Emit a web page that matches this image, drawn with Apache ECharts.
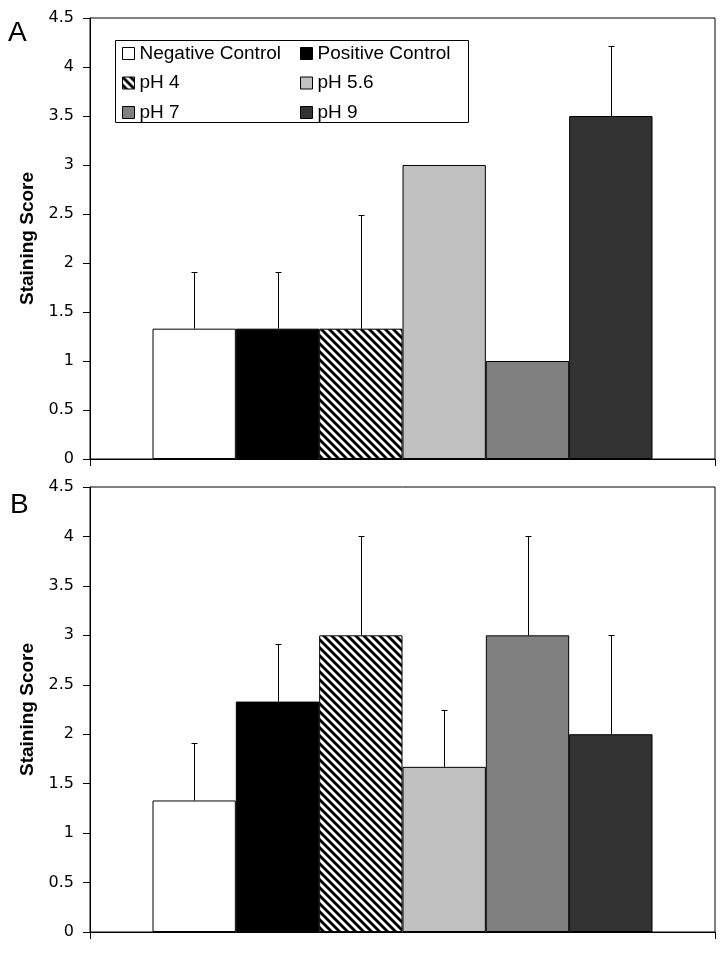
<!DOCTYPE html>
<html>
<head>
<meta charset="utf-8">
<script src="https://cdn.jsdelivr.net/npm/echarts@6/dist/echarts.min.js"></script>
<style>
html,body{margin:0;padding:0;background:#fff;}
#chart{width:720px;height:960px;}
</style>
</head>
<body>
<div id="chart"></div>
<script>
// ---- data ----
const categories = ['Negative Control', 'Positive Control', 'pH 4', 'pH 5.6', 'pH 7', 'pH 9'];
const valuesA = [1.33, 1.33, 1.33, 3.0, 1.0, 3.5];
const errorsA = [0.58, 0.58, 1.16, 0, 0, 0.71];
const valuesB = [1.33, 2.33, 3.0, 1.67, 3.0, 2.0];
const errorsB = [0.58, 0.58, 1.0, 0.58, 1.0, 1.0];
const yMin = 0, yMax = 4.5, yStep = 0.5;
const panelLabels = ['A', 'B'];

// ---- styles ----
const FONT = "'Liberation Sans', Arial, sans-serif";
const TICK_FONT = "'DejaVu Sans', sans-serif";
function hatch() {
  const s = 8;
  const c = document.createElement('canvas');
  c.width = s; c.height = s;
  const g = c.getContext('2d');
  g.fillStyle = '#fff';
  g.fillRect(0, 0, s, s);
  g.strokeStyle = '#000';
  g.lineWidth = 2.8;
  for (let k = -1; k <= 1; k++) {
    g.beginPath();
    g.moveTo(-2, -2 + k * s);
    g.lineTo(s + 2, s + 2 + k * s);
    g.stroke();
  }
  return { image: c, repeat: 'repeat' };
}
const fills = ['#ffffff', '#000000', hatch(), '#c0c0c0', '#808080', '#333333'];
const CAT_GAP = 0.2;

const grids = [
  { left: 90, right: 5, top: 18, height: 441 },
  { left: 90, right: 5, top: 487, height: 445 }
];

function xAxisFor(gi) {
  return {
    type: 'category', gridIndex: gi, data: [''],
    axisLine: { show: true, lineStyle: { color: '#000', width: 1 } },
    axisTick: { show: true, length: 7, inside: false, lineStyle: { color: '#000' } },
    axisLabel: { show: false },
    splitLine: { show: false }
  };
}
function yAxisFor(gi) {
  return {
    type: 'value', gridIndex: gi, min: yMin, max: yMax, interval: yStep,
    axisLine: { show: true, lineStyle: { color: '#000', width: 1 } },
    axisTick: { show: true, length: 7, inside: false, lineStyle: { color: '#000' } },
    axisLabel: { color: '#000', fontSize: 16, fontFamily: TICK_FONT, margin: 16 },
    splitLine: { show: false },
    name: 'Staining Score', nameLocation: 'middle', nameGap: 52,
    nameTextStyle: { color: '#000', fontSize: 19, fontWeight: 'bold', fontFamily: FONT }
  };
}

const series = [];
[valuesA, valuesB].forEach(function (vals, gi) {
  categories.forEach(function (name, i) {
    series.push({
      type: 'bar', name: name, xAxisIndex: gi, yAxisIndex: gi,
      data: [vals[i]],
      barGap: '0%', barCategoryGap: (CAT_GAP * 100) + '%',
      itemStyle: { color: fills[i], borderColor: '#000', borderWidth: 1 },
      emphasis: { disabled: true },
      animation: false
    });
  });
});

function errSeries(vals, errs, gi) {
  return {
    type: 'custom', name: 'err' + gi, xAxisIndex: gi, yAxisIndex: gi, z: 5,
    animation: false, silent: true,
    data: categories.map(function (c, i) { return [0, vals[i], errs[i], i]; }),
    encode: { x: 0, y: 1 },
    renderItem: function (params, api) {
      const v = api.value(1), e = api.value(2), i = api.value(3);
      if (!e) return null;
      const base = api.coord([0, v]);
      const topP = api.coord([0, v + e]);
      const band = api.size([1, 0])[0];
      const bw = band * (1 - CAT_GAP) / categories.length;
      const x = Math.round(base[0] - band / 2 + band * CAT_GAP / 2 + bw * (i + 0.5)) + 0.5;
      const y0 = base[1], y1 = Math.round(topP[1]) + 0.5;
      const st = { stroke: '#000', lineWidth: 1 };
      return {
        type: 'group',
        children: [
          { type: 'line', shape: { x1: x, y1: y0, x2: x, y2: y1 }, style: st },
          { type: 'line', shape: { x1: x - 3, y1: y1, x2: x + 3, y2: y1 }, style: st }
        ]
      };
    }
  };
}
series.push(errSeries(valuesA, errorsA, 0));
series.push(errSeries(valuesB, errorsB, 1));

const legendCommon = {
  orient: 'vertical', itemWidth: 12, itemHeight: 12, itemGap: 10.5,
  icon: 'rect', selectedMode: false,
  textStyle: { color: '#000', fontSize: 19, fontFamily: FONT, lineHeight: 19 },
  itemStyle: { borderColor: '#000', borderWidth: 1 }
};

const option = {
  backgroundColor: '#fff',
  animation: false,
  grid: grids.map(function (g) {
    return Object.assign({ show: true, borderColor: '#000', borderWidth: 1, backgroundColor: 'transparent' }, g);
  }),
  xAxis: [xAxisFor(0), xAxisFor(1)],
  yAxis: [yAxisFor(0), yAxisFor(1)],
  legend: [
    Object.assign({}, legendCommon, { left: 122, top: 44, padding: 0, data: [categories[0], categories[2], categories[4]] }),
    Object.assign({}, legendCommon, { left: 300, top: 44, padding: 0, data: [categories[1], categories[3], categories[5]] })
  ],
  graphic: [
    { type: 'rect', shape: { x: 115.5, y: 40.5, width: 353, height: 82 }, style: { fill: 'none', stroke: '#000', lineWidth: 1 }, z: 10 },
    { type: 'text', x: 8, y: 33, style: { text: panelLabels[0], fill: '#000', fontSize: 28, fontFamily: FONT, verticalAlign: 'middle' } },
    { type: 'text', x: 10, y: 505, style: { text: panelLabels[1], fill: '#000', fontSize: 28, fontFamily: FONT, verticalAlign: 'middle' } }
  ],
  series: series
};

const chart = echarts.init(document.getElementById('chart'));
chart.setOption(option);
</script>
</body>
</html>
